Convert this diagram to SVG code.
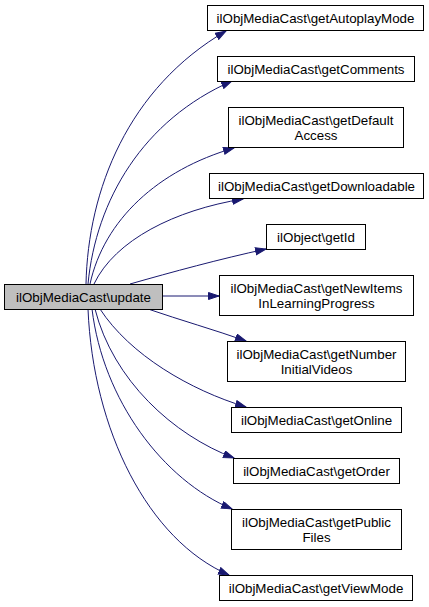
<svg xmlns="http://www.w3.org/2000/svg" width="429" height="607" viewBox="0 0 429 607">
<style>
  .node rect { fill: #ffffff; stroke: #000000; stroke-width: 1; }
  .node.cur rect { fill: #bfbfbf; }
  .node text { font-family: "Liberation Sans", Arial, Helvetica, sans-serif; font-size: 13.33px; text-anchor: middle; fill: #000000; }
  .edge { fill: none; stroke: #191970; stroke-width: 1; }
</style>
<defs>
  <marker id="arr" markerUnits="userSpaceOnUse" markerWidth="12" markerHeight="9" refX="11" refY="4" orient="auto" viewBox="0 0 12 9">
    <path d="M0.5,0.5 L11,4 L0.5,7.5 z" fill="#191970" stroke="#191970" stroke-width="1"/>
  </marker>
</defs>
<g id="connectors">
  <path class="edge" marker-end="url(#arr)" d="M 86 284 C 88 190, 128 88, 226 31"/>
  <path class="edge" marker-end="url(#arr)" d="M 88 284 C 96 200, 143 120, 232 81"/>
  <path class="edge" marker-end="url(#arr)" d="M 90 284 C 104 220, 158 170, 234 148"/>
  <path class="edge" marker-end="url(#arr)" d="M 94 284 C 115 240, 175 210, 243 199"/>
  <path class="edge" marker-end="url(#arr)" d="M 130 284 C 172 272, 220 259, 266 249"/>
  <path class="edge" marker-end="url(#arr)" d="M 162 296 L 219 296"/>
  <path class="edge" marker-end="url(#arr)" d="M 148 309 C 180 320, 215 330, 246 341"/>
  <path class="edge" marker-end="url(#arr)" d="M 100 309 C 130 355, 190 390, 246 407"/>
  <path class="edge" marker-end="url(#arr)" d="M 95 309 C 113 380, 173 435, 234 458"/>
  <path class="edge" marker-end="url(#arr)" d="M 92 309 C 103 400, 163 480, 232 509"/>
  <path class="edge" marker-end="url(#arr)" d="M 88 309 C 93 430, 148 540, 229 575"/>
</g>
<g id="node-update" class="node cur">
  <rect x="4.5" y="284.5" width="158" height="25"/>
  <text x="83.5" y="301.5">ilObjMediaCast\update</text>
</g>
<g id="node-getAutoplayMode" class="node">
  <rect x="207.5" y="5.5" width="216" height="25"/>
  <text x="315.5" y="22.5">ilObjMediaCast\getAutoplayMode</text>
</g>
<g id="node-getComments" class="node">
  <rect x="217.5" y="56.5" width="197" height="25"/>
  <text x="316" y="73.5">ilObjMediaCast\getComments</text>
</g>
<g id="node-getDefaultAccess" class="node">
  <rect x="228.5" y="107.5" width="175" height="40"/>
  <text x="316" y="124.5">ilObjMediaCast\getDefault</text>
  <text x="316" y="139.5">Access</text>
</g>
<g id="node-getDownloadable" class="node">
  <rect x="209.5" y="173.5" width="214" height="25"/>
  <text x="316.5" y="190.5">ilObjMediaCast\getDownloadable</text>
</g>
<g id="node-getId" class="node">
  <rect x="266.5" y="224.5" width="99" height="25"/>
  <text x="316" y="241.5">ilObject\getId</text>
</g>
<g id="node-getNewItems" class="node">
  <rect x="219.5" y="275.5" width="194" height="40"/>
  <text x="316.5" y="292.5">ilObjMediaCast\getNewItems</text>
  <text x="316.5" y="307.5">InLearningProgress</text>
</g>
<g id="node-getNumberInitialVideos" class="node">
  <rect x="227.5" y="341.5" width="178" height="40"/>
  <text x="316.5" y="358.5">ilObjMediaCast\getNumber</text>
  <text x="316.5" y="373.5">InitialVideos</text>
</g>
<g id="node-getOnline" class="node">
  <rect x="231.5" y="407.5" width="170" height="25"/>
  <text x="316.5" y="424.5">ilObjMediaCast\getOnline</text>
</g>
<g id="node-getOrder" class="node">
  <rect x="233.5" y="458.5" width="166" height="25"/>
  <text x="316.5" y="475.5">ilObjMediaCast\getOrder</text>
</g>
<g id="node-getPublicFiles" class="node">
  <rect x="231.5" y="509.5" width="170" height="40"/>
  <text x="316.5" y="526.5">ilObjMediaCast\getPublic</text>
  <text x="316.5" y="541.5">Files</text>
</g>
<g id="node-getViewMode" class="node">
  <rect x="219.5" y="575.5" width="193" height="25"/>
  <text x="316" y="592.5">ilObjMediaCast\getViewMode</text>
</g>
</svg>
